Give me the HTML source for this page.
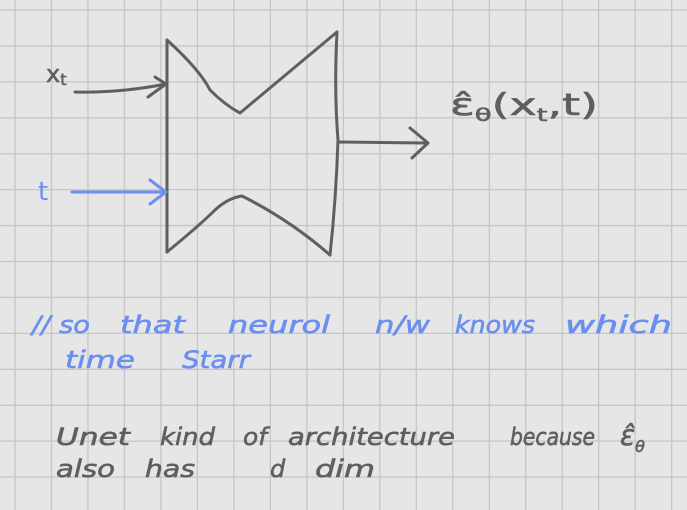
<!DOCTYPE html>
<html><head><meta charset="utf-8"><style>
html,body{margin:0;padding:0;background:#e6e6e6;}
svg{display:block;}
text{font-family:"DejaVu Sans","Liberation Sans",sans-serif;}
</style></head><body>
<svg width="687" height="510" viewBox="0 0 687 510">
<rect width="687" height="510" fill="#e6e6e6"/>
<g id="grid" stroke="#c6c6c6" stroke-width="1.3"></g>

<g fill="none" stroke="#5f5f5f" stroke-width="3" stroke-linecap="round" stroke-linejoin="round">
  <path d="M167 40 L167 252"/>
  <path d="M167 40 Q200 70 210 90 Q225 105 240 113 L337 32"/>
  <path d="M337 32 Q334 90 338 140 Q336 200 330 255"/>
  <path d="M167 252 Q200 225 215 210 Q228 198 242 196 Q290 220 330 255"/>
  <path d="M75 92 Q120 93 166 84 M148 97 L166 84 L155 77"/>
  <path d="M338 142 L425 143 M410 128 L428 143 L412 158"/>
</g>
<path d="M72 192 L166 192 M150 180 L166 192 L150 204" fill="none" stroke="#6b8ff0" stroke-width="3" stroke-linecap="round" stroke-linejoin="round"/>

<g fill="#5f5f5f" stroke="#5f5f5f" stroke-width="0.6" font-size="24">
  <text x="46" y="82">x<tspan font-size="16" dy="3">t</tspan></text>
  <text x="450" y="115" font-size="30" textLength="148" lengthAdjust="spacingAndGlyphs">ε̂<tspan font-size="18" dy="6">θ</tspan><tspan dy="-6">(x</tspan><tspan font-size="18" dy="6">t</tspan><tspan dy="-6">,t)</tspan></text>
</g>
<text x="38" y="200" fill="#6b8ff0" font-size="26">t</text>

<g fill="#6b8ff0" stroke="#6b8ff0" stroke-width="0.6" font-size="24" font-style="italic">
  <text x="32" y="333" textLength="58" lengthAdjust="spacingAndGlyphs">// so</text>
  <text x="120" y="333" textLength="65" lengthAdjust="spacingAndGlyphs">that</text>
  <text x="228" y="333" textLength="102" lengthAdjust="spacingAndGlyphs">neurol</text>
  <text x="375" y="333" textLength="55" lengthAdjust="spacingAndGlyphs">n/w</text>
  <text x="455" y="333" textLength="80" lengthAdjust="spacingAndGlyphs">knows</text>
  <text x="565" y="333" textLength="107" lengthAdjust="spacingAndGlyphs">which</text>
  <text x="65" y="368" textLength="70" lengthAdjust="spacingAndGlyphs">time</text>
  <text x="182" y="368" textLength="68" lengthAdjust="spacingAndGlyphs">Starr</text>
</g>
<g fill="#5f5f5f" stroke="#5f5f5f" stroke-width="0.6" font-size="24" font-style="italic">
  <text x="56" y="445" textLength="74" lengthAdjust="spacingAndGlyphs">Unet</text>
  <text x="160" y="445" textLength="55" lengthAdjust="spacingAndGlyphs">kind</text>
  <text x="243" y="445" textLength="24" lengthAdjust="spacingAndGlyphs">of</text>
  <text x="288" y="445" textLength="167" lengthAdjust="spacingAndGlyphs">architecture</text>
  <text x="510" y="445" textLength="85" lengthAdjust="spacingAndGlyphs">because</text>
  <text x="620" y="445" font-size="28">ε̂<tspan font-size="16" dy="7">θ</tspan></text>
  <text x="56" y="477" textLength="59" lengthAdjust="spacingAndGlyphs">also</text>
  <text x="145" y="477" textLength="50" lengthAdjust="spacingAndGlyphs">has</text>
  <text x="270" y="477">d</text>
  <text x="315" y="477" textLength="60" lengthAdjust="spacingAndGlyphs">dim</text>
</g>

<script>
const g=document.getElementById('grid');
const ns='http://www.w3.org/2000/svg';
for(let i=0;i<20;i++){const x=15+i*36.48;const l=document.createElementNS(ns,'line');
l.setAttribute('x1',x);l.setAttribute('x2',x);l.setAttribute('y1',0);l.setAttribute('y2',510);


g.appendChild(l);}
for(let j=0;j<15;j++){const y=10+j*35.93;const l=document.createElementNS(ns,'line');
l.setAttribute('x1',0);l.setAttribute('x2',687);l.setAttribute('y1',y);l.setAttribute('y2',y);


g.appendChild(l);}
</script>
</svg>
</body></html>
